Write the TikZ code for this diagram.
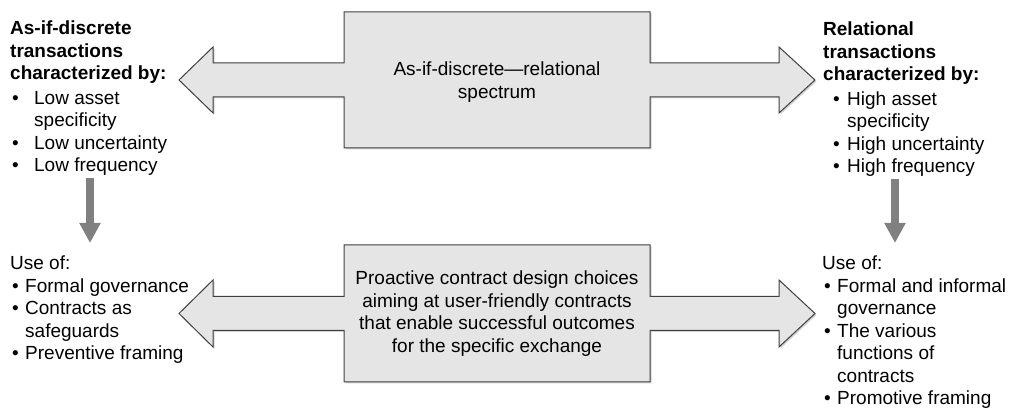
\documentclass[tikz,border=0pt]{standalone}
\usepackage{fontspec}
\setmainfont{Liberation Sans}
\usepackage{tikz}
\usetikzlibrary{positioning}
\usetikzlibrary{arrows.meta}
\usetikzlibrary{shadows}
\tikzset{
    spectrum/.style = {fill=black!10, draw=black!75, line width=1pt, drop shadow={shadow xshift=1.5pt,shadow yshift=-1.5pt,opacity=0.35}},
    boxtext/.style = {align=center, inner sep=0pt},
    listtext/.style = {align=left, anchor=north west, inner sep=0pt},
    downarrow/.style = {-{Triangle[width=20pt,length=20pt]},line width=7.5pt,draw=black!50,shorten <=2pt,shorten >=13pt}
}
\newcommand{\bigdot}[1][2pt]{\makebox[24pt][l]{\hspace{#1}\textbullet}}
\newcommand{\smalldot}{\makebox[15pt][l]{\hspace{2pt}\textbullet}}

\begin{document}
\begin{tikzpicture}[x=1pt, y=-1pt, font=\fontsize{19}{22.5}\selectfont]
  \useasboundingbox (0,0) rectangle (1018,411);

  % spectrum arrows
  \filldraw[spectrum] (344,63) -- (344,12) -- (650,12) -- (650,63) -- (779,63) -- (779,47) -- (815,80) -- (779,113) -- (779,97) -- (650,97) -- (650,148) -- (344,148) -- (344,97) -- (213,97) -- (213,113) -- (179,80) -- (213,47) -- (213,63) -- cycle;
  \filldraw[spectrum] (344,296.5) -- (344,245) -- (650,245) -- (650,296.5) -- (779,296.5) -- (779,280) -- (815,313.5) -- (779,347) -- (779,330.5) -- (650,330.5) -- (650,382) -- (344,382) -- (344,330.5) -- (213,330.5) -- (213,347) -- (179,313.5) -- (213,280) -- (213,296.5) -- cycle;

  \node[boxtext] (spec) at (497,82) {As-if-discrete—relational\\spectrum};
  \node[boxtext] (design) at (497,313.5) {Proactive contract design choices\\aiming at user-friendly contracts\\that enable successful outcomes\\for the specific exchange};

  % transaction types
  \node[listtext] (lt) at (10,21) {\textbf{As-if-discrete}\\\textbf{transactions}\\\textbf{characterized by:}\\[2pt]\bigdot Low asset\\\hspace*{24pt}specificity\\\bigdot Low uncertainty\\\bigdot Low frequency};
  \node[listtext] (rt) at (823,22) {\textbf{Relational}\\\textbf{transactions}\\\textbf{characterized by:}\\[2pt]\bigdot[10pt]High asset\\\hspace*{24pt}specificity\\\bigdot[10pt]High uncertainty\\\bigdot[10pt]High frequency};

  % governance
  \node[listtext] (lb) at (10,256) {Use of:\\\smalldot Formal governance\\\smalldot Contracts as\\\hspace*{15pt}safeguards\\\smalldot Preventive framing};
  \node[listtext] (rb) at (822,256) {Use of:\\\smalldot Formal and informal\\\hspace*{15pt}governance\\\smalldot The various\\\hspace*{15pt}functions of\\\hspace*{15pt}contracts\\\smalldot Promotive framing};

  \coordinate (la) at (90,0);
  \coordinate (ra) at (895,0);
  \draw[downarrow] (lt.south -| la) -- (lb.north -| la);
  \draw[downarrow] (rt.south -| ra) -- (rb.north -| ra);
\end{tikzpicture}
\end{document}
